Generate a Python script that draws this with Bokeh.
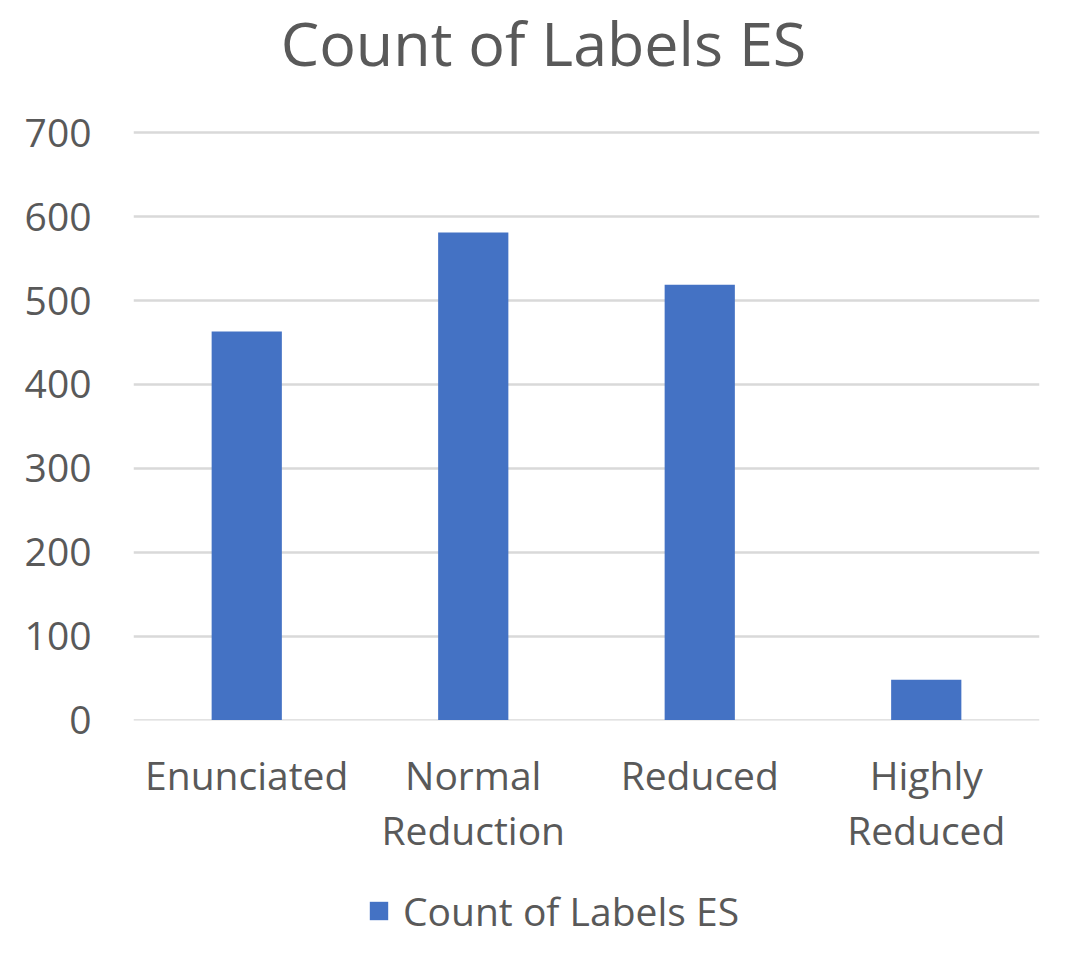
from bokeh.plotting import figure
from bokeh.layouts import column
from bokeh.models import FixedTicker, Legend, LegendItem, Range1d, FactorRange, ColumnDataSource, Label
from bokeh.embed import file_html
from bokeh.resources import INLINE

# ---- data ----
categories = ["Enunciated", "Normal\nReduction", "Reduced", "Highly\nReduced"]
counts = [463, 581, 519, 48]
y_ticks = [0, 100, 200, 300, 400, 500, 600, 700]
series_name = "Count of Labels ES"
chart_title = "Count of Labels ES"

FONT = "Open Sans"
TEXT = "#595959"
BAR = "#4472C4"
GRID = "#D9D9D9"

W = 1070
MAIN_H = 867
LEG_H = 70
LEFT, RIGHT = 133, 31

# frame spans from the top of the canvas to y=720 px; the value axis keeps
# 0 at ~719.5 px and 700 at ~132.3 px, so the range end is extended upward
frame_h = 720
px_per_unit = (719.5 - 132.3) / 700.0
y_start = -(frame_h - 719.5) / px_per_unit
y_end = 700 + 132.3 / px_per_unit

source = ColumnDataSource(dict(cat=categories, count=counts))
x_range = FactorRange(*categories, range_padding=0)

p = figure(
    x_range=x_range,
    y_range=Range1d(y_start, y_end),
    width=W, height=MAIN_H,
    output_backend="svg", toolbar_location=None, title=None,
    min_border_left=LEFT, min_border_right=RIGHT,
    min_border_top=0, min_border_bottom=MAIN_H - frame_h,
)
p.outline_line_color = None
p.background_fill_color = "white"
p.border_fill_color = "white"

r = p.vbar(x="cat", top="count", bottom=0, width=0.31, source=source,
           fill_color=BAR, line_color=None)

# chart title, centred on the whole chart
title_x = (543 - LEFT) / (W - LEFT - RIGHT) * len(categories)
title_y = 700 + (132.3 - 42) / px_per_unit
p.add_layout(Label(x=title_x, y=title_y, text=chart_title,
                   text_align="center", text_baseline="alphabetic",
                   text_font=FONT, text_font_size="61px", text_color=TEXT))

# axes
p.yaxis.ticker = FixedTicker(ticks=y_ticks)
for ax in (p.xaxis[0], p.yaxis[0]):
    ax.axis_line_color = None
    ax.major_tick_line_color = None
    ax.minor_tick_line_color = None
    ax.major_tick_out = 0
    ax.major_tick_in = 0
    ax.major_label_text_font = FONT
    ax.major_label_text_font_size = "39px"
    ax.major_label_text_color = TEXT
p.yaxis.major_label_standoff = 42
p.xaxis.major_label_standoff = 27
p.xaxis.major_label_text_line_height = 1.04

p.xgrid.grid_line_color = None
p.ygrid.grid_line_color = GRID
p.ygrid.grid_line_width = 2.5

# legend strip below the chart (same series, renderer hidden; only its legend shows)
p2 = figure(width=W, height=LEG_H, x_range=x_range, y_range=Range1d(0, 1),
            output_backend="svg", toolbar_location=None, title=None,
            x_axis_location=None, y_axis_location=None, min_border=0,
            min_border_left=LEFT, min_border_right=RIGHT)
p2.outline_line_color = None
p2.xgrid.grid_line_color = None
p2.ygrid.grid_line_color = None
r2 = p2.vbar(x="cat", top="count", bottom=0, width=0.31, source=source,
             fill_color=BAR, line_color=None, visible=False)

legend = Legend(
    items=[LegendItem(label=series_name, renderers=[r2])],
    location=(367 - LEFT, 0), orientation="horizontal",
    glyph_width=23, glyph_height=23, label_standoff=13,
    padding=0, margin=0, border_line_color=None, background_fill_alpha=0,
    inactive_fill_alpha=0,
    label_text_font=FONT, label_text_font_size="39px", label_text_color=TEXT,
)
p2.add_layout(legend, "center")

layout = column(p, p2, spacing=0)
open("out.html", "w").write(file_html(layout, INLINE))
